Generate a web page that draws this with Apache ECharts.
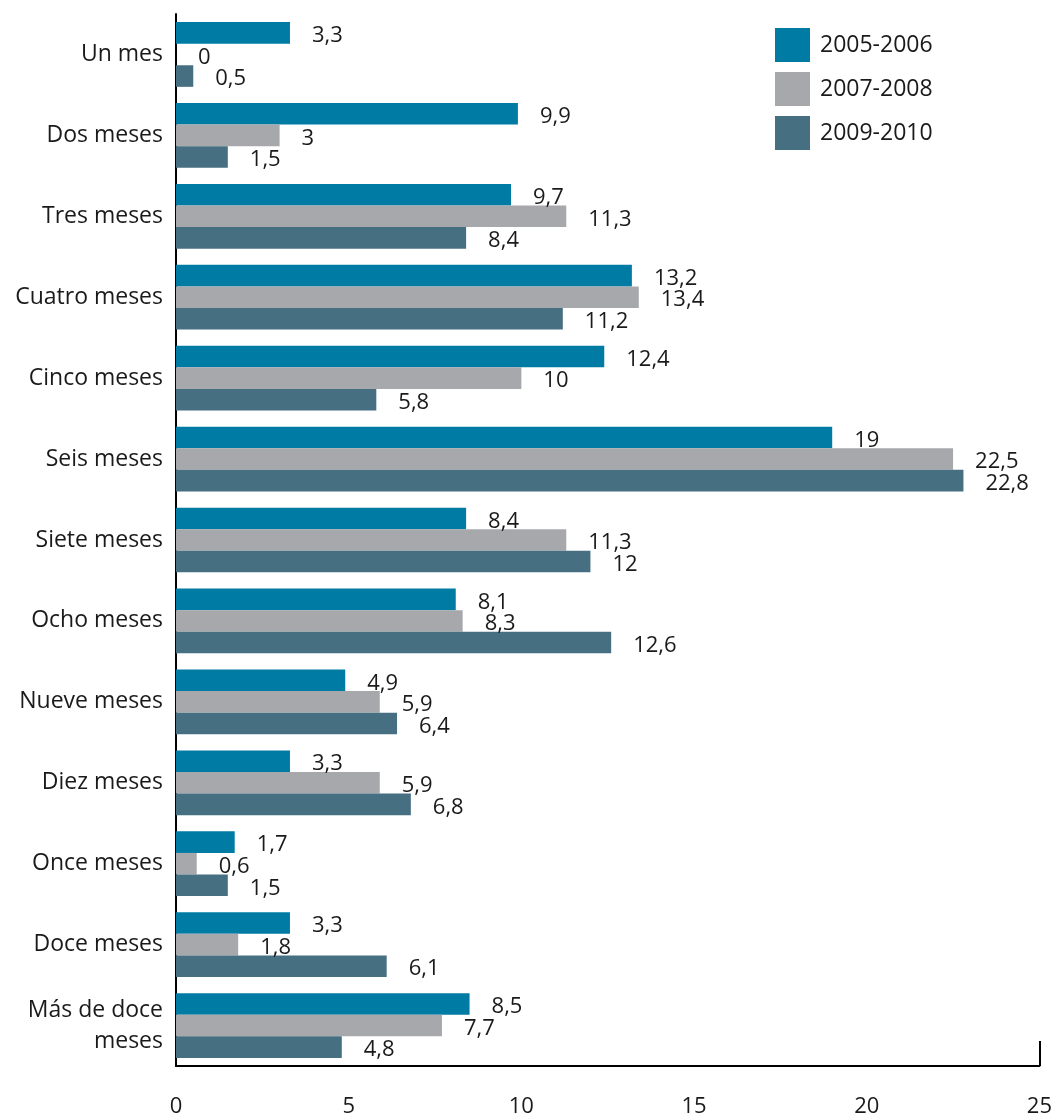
<!DOCTYPE html>
<html><head><meta charset="utf-8">
<script src="https://cdn.jsdelivr.net/npm/echarts@6/dist/echarts.min.js"></script>
<style>html,body{margin:0;padding:0;background:#fff}#c{width:1055px;height:1118px}</style>
</head><body><div id="c"></div>
<script>
const categories = ['Un mes','Dos meses','Tres meses','Cuatro meses','Cinco meses','Seis meses','Siete meses','Ocho meses','Nueve meses','Diez meses','Once meses','Doce meses','Más de doce\nmeses'];
const seriesNames = ['2005-2006','2007-2008','2009-2010'];
const s2005 = [3.3, 9.9, 9.7, 13.2, 12.4, 19, 8.4, 8.1, 4.9, 3.3, 1.7, 3.3, 8.5];
const s2007 = [0, 3, 11.3, 13.4, 10, 22.5, 11.3, 8.3, 5.9, 5.9, 0.6, 1.8, 7.7];
const s2009 = [0.5, 1.5, 8.4, 11.2, 5.8, 22.8, 12, 12.6, 6.4, 6.8, 1.5, 6.1, 4.8];
const xTicks = [0, 5, 10, 15, 20, 25];

const colors = ['#007BA4', '#A7A8AC', '#476F82'];
const FONT = 'Open Sans';
const chart = echarts.init(document.getElementById('c'));
const mk = (name, data, color) => ({
  name, type: 'bar', data, barGap: '0%', barCategoryGap: '20%',
  itemStyle: { color },
  label: {
    show: true, position: 'right', distance: 22, color: '#1a1a1a', offset: [0, 3],
    fontFamily: FONT, fontSize: 22,
    formatter: p => String(p.value).replace('.', ',')
  }
});
chart.setOption({
  animation: false,
  textStyle: { fontFamily: FONT },
  grid: { left: 176, right: 15, top: 14, bottom: 51, containLabel: false },
  legend: {
    orient: 'vertical', left: 770, top: 23, itemWidth: 35, itemHeight: 34, itemGap: 10,
    icon: 'rect', data: seriesNames,
    textStyle: { fontFamily: FONT, fontSize: 23, color: '#1a1a1a', padding: [4, 0, 0, 5] }
  },
  xAxis: {
    type: 'value', min: xTicks[0], max: xTicks[xTicks.length - 1], interval: 5,
    splitLine: { show: false },
    axisLine: { show: true, lineStyle: { color: '#000', width: 2 } },
    axisTick: { show: true, inside: true, length: 25, customValues: [25], lineStyle: { color: '#000', width: 2 } },
    axisLabel: { margin: 30, fontSize: 22, color: '#1a1a1a', fontFamily: FONT, customValues: xTicks }
  },
  yAxis: {
    type: 'category', data: categories, inverse: true,
    axisLine: { show: true, lineStyle: { color: '#000', width: 2 } },
    axisTick: { show: false },
    axisLabel: { margin: 13, fontSize: 23, color: '#1a1a1a', fontFamily: FONT, lineHeight: 31, padding: [10, 0, 0, 0] }
  },
  series: [mk(seriesNames[0], s2005, colors[0]), mk(seriesNames[1], s2007, colors[1]), mk(seriesNames[2], s2009, colors[2])]
});
</script></body></html>
